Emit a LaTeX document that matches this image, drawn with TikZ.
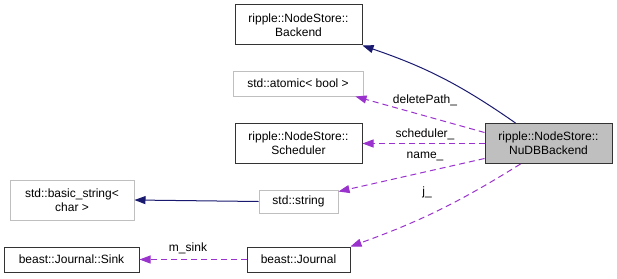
\documentclass[tikz,border=0pt]{standalone}
\usepackage{fontspec}
\setmainfont{Liberation Sans}
\usetikzlibrary{arrows.meta}

\definecolor{edgeblue}{HTML}{191970}
\definecolor{edgepurple}{HTML}{9A32CD}
\definecolor{boxgrey}{HTML}{BFBFBF}

\tikzset{
  cls/.style={draw=black!80, line width=1pt, align=center, inner sep=1pt,
    font=\fontsize{12}{14}\selectfont},
  ext/.style={cls, draw=boxgrey},
  inherit/.style={edgeblue, line width=1pt, -{Triangle[length=11pt,width=8pt]}},
  member/.style={edgepurple, line width=1pt, dash pattern=on 6pt off 4pt,
    -{Triangle[length=11pt,width=8pt]}},
  lbl/.style={font=\fontsize{12}{14}\selectfont, inner sep=1pt},
}

\begin{document}
\begin{tikzpicture}[x=1pt,y=-1pt]
\useasboundingbox (0,0) rectangle (617,278);

% classes
\node[cls, minimum width=127pt, minimum height=40pt] (backend) at (298.5,25) {ripple::NodeStore::\\Backend};
\node[ext, minimum width=130pt, minimum height=25pt] (atomic) at (298,83.5) {std::atomic< bool >};
\node[cls, minimum width=127pt, minimum height=40pt] (sched) at (298.5,143.5) {ripple::NodeStore::\\Scheduler};
\node[cls, fill=boxgrey, minimum width=127pt, minimum height=40pt] (nudb) at (548.5,143.5) {ripple::NodeStore::\\NuDBBackend};
\node[ext, minimum width=124pt, minimum height=40pt] (bstring) at (72,200) {std::basic\_string<\\char >};
\node[ext, minimum width=79pt, minimum height=23pt] (string) at (298.5,201.5) {std::string};
\node[cls, minimum width=103pt, minimum height=25pt] (journal) at (298.5,259.5) {beast::Journal};
\node[cls, minimum width=135pt, minimum height=25pt] (sink) at (71.5,259.5) {beast::Journal::Sink};

% inheritance
\draw[inherit] ([xshift=-33pt]nudb.north) to[bend right=8] (backend.south east);
\draw[inherit] (string.west) -- (bstring.east);

% members
\draw[member] ([yshift=11pt]nudb.west) -- ([xshift=-8pt]atomic.south east);
\draw[member] (nudb.west) -- (sched.east);
\draw[member] ([yshift=-15pt]nudb.west) -- ([yshift=-2pt]string.north east);
\draw[member] ([xshift=-28pt]nudb.south) to[bend left=6] (journal.north east);
\draw[member] (journal.west) -- (sink.east);

% member names
\node[lbl] (lpath) at (425,100) {deletePath\_};
\node[lbl] (lsched) at (425,134) {scheduler\_};
\node[lbl] (lname) at (425,156) {name\_};
\node[lbl] (lj) at (427,192) {j\_};
\node[lbl] (lsink) at (188,248) {m\_sink};

\end{tikzpicture}
\end{document}
